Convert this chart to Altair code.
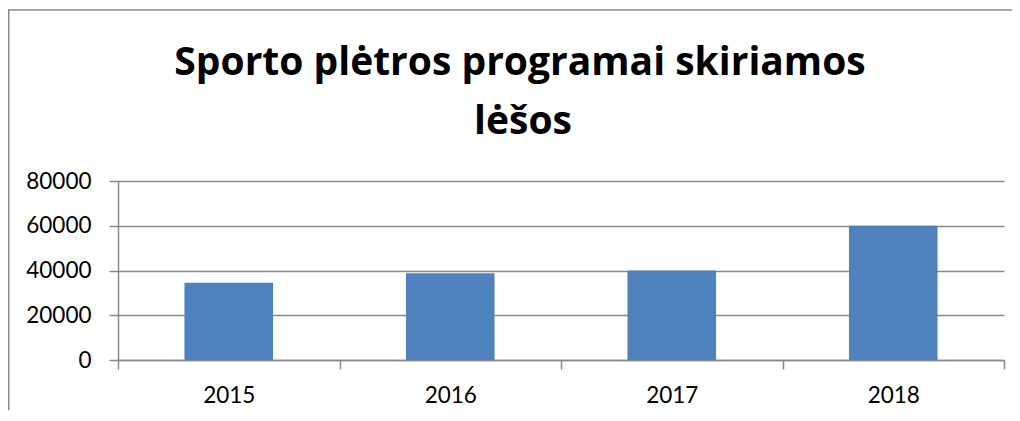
import altair as alt
import pandas as pd

years = ["2015", "2016", "2017", "2018"]
amounts = [34500, 38800, 40000, 60000]
y_ticks = [0, 20000, 40000, 60000, 80000]
title_line1 = "Sporto plėtros programai skiriamos"
title_line2 = "lėšos"

df = pd.DataFrame({"year": years, "amount": amounts})
GRAY = "#898989"
FONT = "Lato"
TFONT = "Open Sans"

bars = alt.Chart(df).mark_bar(color="#4F81BD", width=alt.RelativeBandSize(0.4)).encode(
    x=alt.X("year:N", sort=years, title=None,
            scale=alt.Scale(paddingInner=0, paddingOuter=0),
            axis=alt.Axis(labelAngle=0, tickBand="extent", tickSize=9, tickColor=GRAY,
                          tickWidth=1.5, domainColor=GRAY, domainWidth=1.5,
                          labelFont=FONT, labelFontSize=22.5, labelColor="black",
                          labelPadding=15, grid=False)),
    y=alt.Y("amount:Q", title=None,
            scale=alt.Scale(domain=[0, 80000], nice=False),
            axis=alt.Axis(values=y_ticks, format="d", tickSize=9, tickColor=GRAY,
                          tickWidth=1.5, domainColor=GRAY, domainWidth=1.5,
                          grid=True, gridColor=GRAY, gridWidth=1.5,
                          labelFont=FONT, labelFontSize=22.5, labelColor="black",
                          labelPadding=18)),
)

one = alt.Data(values=[{"k": 1}])
left_rule = alt.Chart(one).mark_rule(color=GRAY, strokeWidth=1.5).encode(
    x=alt.value(-109.25), y=alt.value(-172), y2=alt.value(240))
top_rule = alt.Chart(one).mark_rule(color=GRAY, strokeWidth=1.5).encode(
    x=alt.value(-110), x2=alt.value(900), y=alt.value(-171))

title1 = alt.Chart(one).mark_text(
    text=title_line1, font=TFONT, fontSize=39, fontWeight="bold", color="black",
    align="center", baseline="alphabetic").encode(x=alt.value(402), y=alt.value(-106))
title2 = alt.Chart(one).mark_text(
    text=title_line2, font=TFONT, fontSize=39, fontWeight="bold", color="black",
    align="center", baseline="alphabetic").encode(x=alt.value(405), y=alt.value(-47))

chart = alt.layer(bars, left_rule, top_rule, title1, title2).properties(
    width=886, height=179,
    padding={"left": 110, "top": 173, "right": 8, "bottom": 50},
    autosize=alt.AutoSizeParams(type="none"),
).configure_view(stroke=None)

chart.save("out.html", embed_options={"renderer": "svg", "actions": False})
